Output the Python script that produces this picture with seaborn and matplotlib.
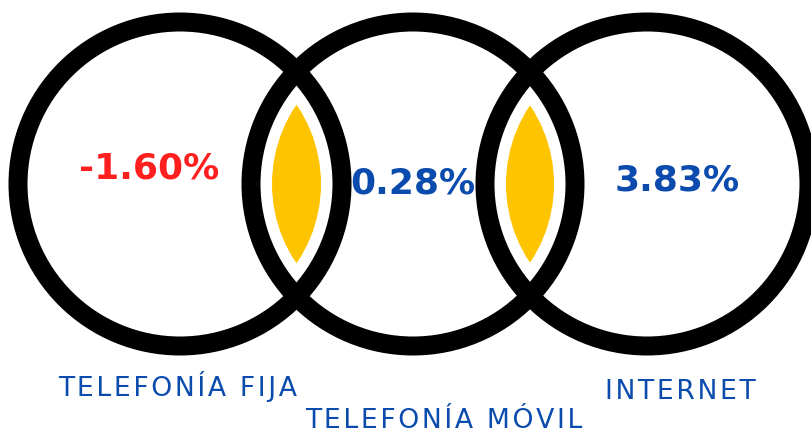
import numpy as np
import seaborn as sns
import matplotlib.pyplot as plt
from matplotlib.patches import Circle

# data
services = ['TELEFONÍA FIJA', 'TELEFONÍA MÓVIL', 'INTERNET']
growth = [-1.60, 0.28, 3.83]
value_colors = ['#ff1f1f', '#0a4bad', '#0a4bad']

def spaced(s):
    # fake letter spacing with hair spaces
    return '\u200a'.join(s)

def main():
    sns.set_theme(style='white')
    plt.rcParams['font.family'] = ['DejaVu Sans']

    fig = plt.figure(figsize=(8.12, 4.36), dpi=100)
    ax = fig.add_axes([0, 0, 1, 1])
    ax.set_xlim(0, 812)
    ax.set_ylim(436, 0)
    ax.set_aspect('equal')
    ax.axis('off')

    cx = [180, 413, 647]
    cy = 184
    r_ring = 162
    r_fill = 141
    lw = 19 * 0.72

    # yellow overlaps: intersection of neighbouring inner discs
    for i in range(len(cx) - 1):
        lens = Circle((cx[i + 1], cy), r_fill, facecolor='#ffc400', edgecolor='none', zorder=1)
        clip = Circle((cx[i], cy), r_fill, transform=ax.transData, facecolor='none')
        ax.add_patch(lens)
        lens.set_clip_path(clip)

    for x in cx:
        ax.add_patch(Circle((x, cy), r_ring, facecolor='none', edgecolor='black', lw=lw, zorder=2))

    # values
    val_pos = [(149, 168), (413, 183), (677, 180)]
    for (x, y), v, c in zip(val_pos, growth, value_colors):
        ax.text(x, y, '{:.2f}%'.format(v), color=c, fontsize=26, fontweight='bold',
                ha='center', va='center', zorder=3)

    # service labels
    lab_pos = [(178, 386), (444, 421), (680, 392)]
    for (x, y), s in zip(lab_pos, services):
        ax.text(x, y, spaced(s), color='#0a4bad', fontsize=19.2, ha='center', va='center', zorder=3)

    fig.savefig('out.png', dpi=100)

if __name__ == '__main__':
    main()
